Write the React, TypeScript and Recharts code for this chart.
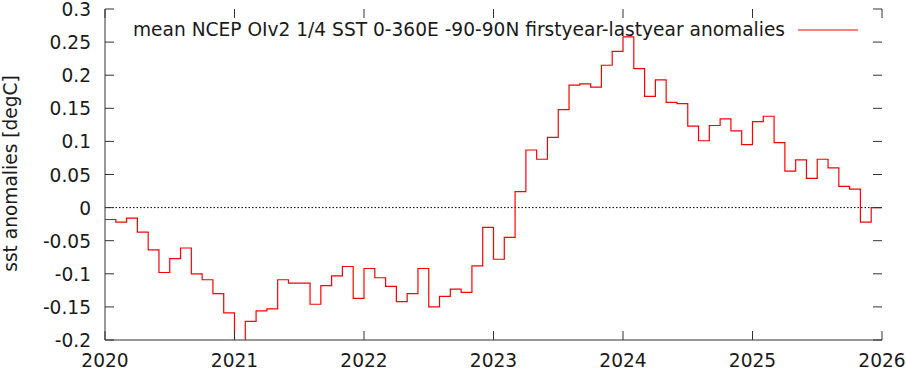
import React from 'react';
import { LineChart, Line, XAxis, YAxis, ReferenceLine } from 'recharts';

const years = [2020, 2021, 2022, 2023, 2024, 2025];
const values2020 = [-0.018, -0.022, -0.016, -0.037, -0.064, -0.098, -0.077, -0.061, -0.100, -0.109, -0.130, -0.159];
const values2021 = [-0.215, -0.172, -0.156, -0.153, -0.109, -0.114, -0.114, -0.146, -0.118, -0.103, -0.089, -0.137];
const values2022 = [-0.092, -0.106, -0.119, -0.142, -0.130, -0.092, -0.150, -0.134, -0.123, -0.128, -0.088, -0.030];
const values2023 = [-0.078, -0.045, 0.024, 0.087, 0.073, 0.106, 0.148, 0.185, 0.187, 0.182, 0.215, 0.236];
const values2024 = [0.258, 0.210, 0.168, 0.193, 0.159, 0.157, 0.123, 0.101, 0.124, 0.134, 0.116, 0.095];
const values2025 = [0.130, 0.138, 0.098, 0.055, 0.072, 0.044, 0.073, 0.060, 0.032, 0.028, -0.022, 0.000];
const xTicks = [2020, 2021, 2022, 2023, 2024, 2025, 2026];
const yTicks = [-0.2, -0.15, -0.1, -0.05, 0, 0.05, 0.1, 0.15, 0.2, 0.25, 0.3];
const yTickLabels = ['-0.2', '-0.15', '-0.1', '-0.05', '0', '0.05', '0.1', '0.15', '0.2', '0.25', '0.3'];
const legendLabel = 'mean NCEP OIv2 1/4 SST 0-360E -90-90N firstyear-lastyear anomalies';
const yLabel = 'sst anomalies [degC]';

const allYears = [values2020, values2021, values2022, values2023, values2024, values2025];
const data: { t: number; v: number }[] = [];
allYears.forEach((vals, yi) => {
  vals.forEach((v, m) => data.push({ t: years[yi] + m / 12, v }));
});
// close the last monthly step at the end of the record
data.push({ t: years[years.length - 1] + 1, v: values2025[values2025.length - 1] });

const W = 906;
const H = 369;
const LEFT = 105;
const RIGHT = 24;
const TOP = 9;
const BOTTOM = 29;
const PLOT_R = W - RIGHT;
const PLOT_B = H - BOTTOM;
const TICK = 9;
const FONT = 'DejaVu Sans, sans-serif';
const FS = 18.6;
const TXT = '#1a1a1a';
const FRAME = '#333';

const XTick = (props: any) => {
  const { x, payload } = props;
  return (
    <g>
      <line x1={x} x2={x} y1={PLOT_B} y2={PLOT_B - TICK} stroke={FRAME} strokeWidth={1} />
      <line x1={x} x2={x} y1={TOP} y2={TOP + TICK} stroke={FRAME} strokeWidth={1} />
      <text x={x} y={PLOT_B + 26.5} textAnchor="middle" fontFamily={FONT} fontSize={FS} fill={TXT}>
        {payload.value}
      </text>
    </g>
  );
};

const YTick = (props: any) => {
  const { y, payload } = props;
  const idx = yTicks.findIndex((t) => Math.abs(t - payload.value) < 1e-9);
  return (
    <g>
      <line x1={LEFT} x2={LEFT + TICK} y1={y} y2={y} stroke={FRAME} strokeWidth={1} />
      <line x1={PLOT_R - TICK} x2={PLOT_R} y1={y} y2={y} stroke={FRAME} strokeWidth={1} />
      <text x={LEFT - 14} y={y + 7} textAnchor="end" fontFamily={FONT} fontSize={FS} fill={TXT}>
        {idx >= 0 ? yTickLabels[idx] : payload.value}
      </text>
    </g>
  );
};

export default function App() {
  return (
    <div style={{ position: 'absolute', left: 0, top: 0, width: W, height: H, background: '#fff' }}>
      <LineChart width={W} height={H} data={data} margin={{ top: TOP, right: RIGHT, bottom: 0, left: 0 }}>
        <XAxis
          dataKey="t"
          type="number"
          domain={[2020, 2026]}
          ticks={xTicks}
          height={BOTTOM}
          tickLine={false}
          tickSize={0}
          tickMargin={0}
          tick={<XTick />}
          axisLine={{ stroke: FRAME, strokeWidth: 1 }}
          interval={0}
        />
        <XAxis
          xAxisId="top"
          dataKey="t"
          type="number"
          orientation="top"
          domain={[2020, 2026]}
          height={0}
          tick={false}
          tickLine={false}
          axisLine={{ stroke: FRAME, strokeWidth: 1 }}
        />
        <YAxis
          type="number"
          domain={[-0.2, 0.3]}
          ticks={yTicks}
          width={LEFT}
          allowDataOverflow
          tickLine={false}
          tickSize={0}
          tickMargin={0}
          tick={<YTick />}
          axisLine={{ stroke: FRAME, strokeWidth: 1 }}
          interval={0}
        />
        <YAxis
          yAxisId="right"
          orientation="right"
          type="number"
          domain={[-0.2, 0.3]}
          width={0}
          tick={false}
          tickLine={false}
          axisLine={{ stroke: FRAME, strokeWidth: 1 }}
        />
        <ReferenceLine y={0} stroke="#000" strokeWidth={1} strokeDasharray="1.5 2" />
        <Line
          dataKey="v"
          type="stepAfter"
          stroke="#ff0000"
          strokeWidth={1.2}
          dot={false}
          activeDot={false}
          isAnimationActive={false}
        />
      </LineChart>
      <svg width={W} height={H} style={{ position: 'absolute', left: 0, top: 0, pointerEvents: 'none' }}>
        <text
          transform={`translate(16.5, ${(TOP + PLOT_B) / 2 - 1}) rotate(-90)`}
          textAnchor="middle"
          fontFamily={FONT}
          fontSize={FS}
          fill={TXT}
        >
          {yLabel}
        </text>
        <text x={133} y={36} fontFamily={FONT} fontSize={FS} fill={TXT}>
          {legendLabel}
        </text>
        <line x1={798} x2={858} y1={30} y2={30} stroke="#ff0000" strokeWidth={1.2} />
      </svg>
    </div>
  );
}
